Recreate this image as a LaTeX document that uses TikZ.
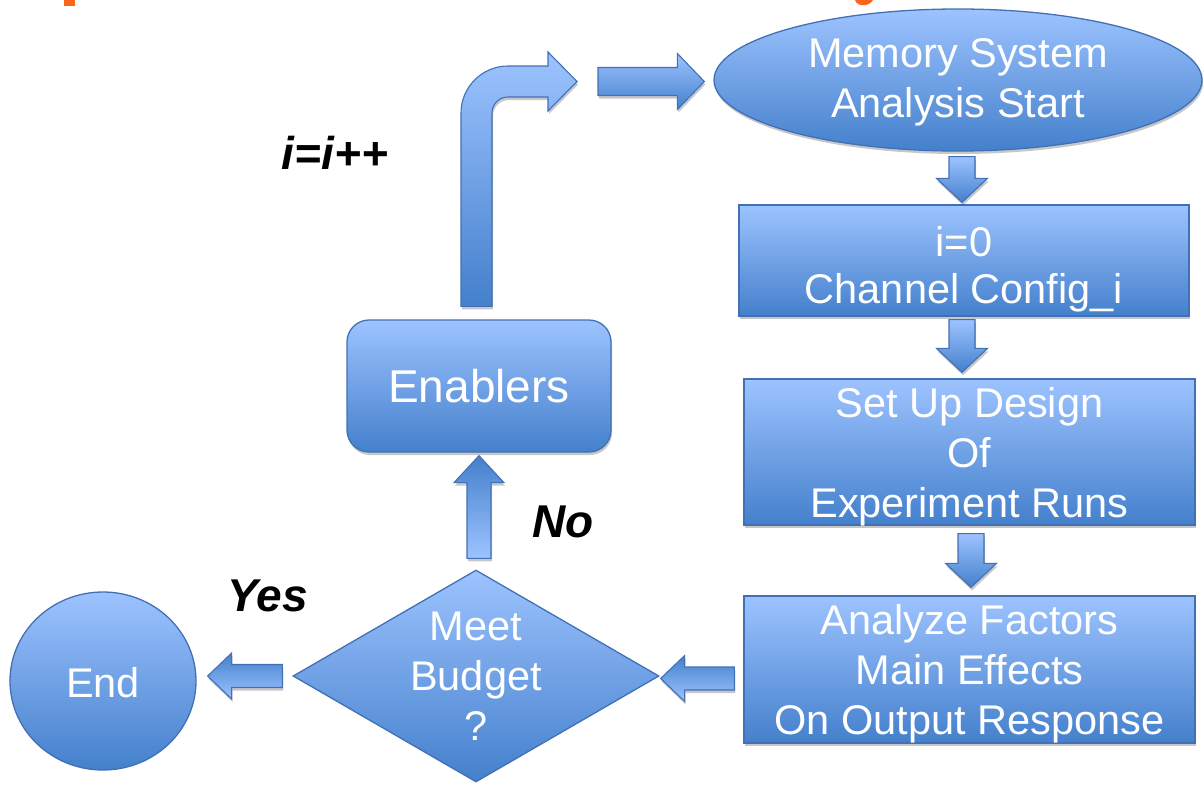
\documentclass[tikz,border=0pt]{standalone}
\usepackage{fontspec}
\setmainfont{Liberation Sans}
\usetikzlibrary{shapes.geometric,shadows,calc}
\definecolor{lt}{RGB}{157,195,255}
\definecolor{dk}{RGB}{68,128,204}
\definecolor{bord}{RGB}{65,113,180}
\definecolor{ttl}{RGB}{250,100,30}
\tikzset{
  shp/.style={draw=bord, line width=1.3pt, top color=lt, bottom color=dk, text=white,
    align=center, inner sep=0pt, font=\fontsize{41.5}{50}\selectfont},
  shd/.style={drop shadow={shadow xshift=1pt, shadow yshift=-3pt, opacity=0.22, fill=black}},
  boxn/.style={shp, shd, rectangle, text depth=0pt},
  lbl/.style={font=\fontsize{46}{55}\selectfont\bfseries\itshape, text=black, inner sep=0pt},
  arr/.style={draw=bord, line width=1.1pt, shd},
  dnarr/.style={arr, top color=lt, bottom color=dk,
    to path={let \p1=(\tikztostart), \p2=(\tikztotarget) in
      (\x1-13pt,\y1) -- (\x1+13pt,\y1) -- (\x1+13pt,\y2+24pt) -- (\x1+25.5pt,\y2+24pt)
      -- (\x1,\y2) -- (\x1-25.5pt,\y2+24pt) -- (\x1-13pt,\y2+24pt) -- cycle}},
  uparr/.style={arr, top color=dk, bottom color=lt,
    to path={let \p1=(\tikztostart), \p2=(\tikztotarget) in
      (\x2-12pt,\y1) -- (\x2+12pt,\y1) -- (\x2+12pt,\y2-27pt) -- (\x2+25pt,\y2-27pt)
      -- (\x2,\y2) -- (\x2-25pt,\y2-27pt) -- (\x2-12pt,\y2-27pt) -- cycle}},
  lfarr/.style={arr, top color=dk, bottom color=lt,
    to path={let \p1=(\tikztostart), \p2=(\tikztotarget) in
      (\x1,\y1+11.5pt) -- (\x2+24pt,\y1+11.5pt) -- (\x2+24pt,\y1+23pt) -- (\x2,\y1)
      -- (\x2+24pt,\y1-23pt) -- (\x2+24pt,\y1-11.5pt) -- (\x1,\y1-11.5pt) -- cycle}},
  rtarr/.style={arr, top color=lt, bottom color=dk,
    to path={let \p1=(\tikztostart), \p2=(\tikztotarget) in
      (\x1,\y1+14pt) -- (\x2-27pt,\y1+14pt) -- (\x2-27pt,\y1+28pt) -- (\x2,\y1)
      -- (\x2-27pt,\y1-28pt) -- (\x2-27pt,\y1-14pt) -- (\x1,\y1-14pt) -- cycle}},
  bentarr/.style={arr, top color=lt, bottom color=dk,
    to path={let \p1=(\tikztostart), \p2=(\tikztotarget) in
      (\x1-15.5pt,\y1) -- (\x1-15.5pt,\y2-31.5pt) arc(180:90:47pt)
      -- (\x2-29pt,\y2+15.5pt) -- (\x2-29pt,\y2+29.5pt) -- (\x2,\y2)
      -- (\x2-29pt,\y2-29.5pt) -- (\x2-29pt,\y2-15.5pt) -- (\x1+31.5pt,\y2-15.5pt)
      arc(90:180:16pt) -- (\x1+15.5pt,\y1) -- cycle}},
}
\begin{document}
\begin{tikzpicture}[x=1pt,y=-1pt]
\useasboundingbox (0,0) rectangle (1204,785);
\clip (0,0) rectangle (1204,785);
% cropped title fragments
\fill[ttl] (64,0) rectangle (75,6);
\fill[ttl] (855,0) .. controls (857,7) and (869,7) .. (873,0) -- cycle;
% nodes
\node[shp, shd, ellipse, minimum width=488pt, minimum height=142pt, text depth=3.5pt] (start) at (958,80) {Memory System\\Analysis Start};
\node[boxn, minimum width=450pt, minimum height=111pt, text height=85pt,
      font=\fontsize{41.5}{47}\selectfont] (cfg) at (964,260.5) {i=0\\Channel Config\_i};
\node[boxn, minimum width=451pt, minimum height=146pt] (doe) at (969.5,452) {Set Up Design\\Of\\Experiment Runs};
\node[boxn, minimum width=451pt, minimum height=147pt] (ana) at (969.5,669.5) {Analyze Factors\\Main Effects\\On Output Response};
\node[shp, shd, rectangle, rounded corners=22pt, minimum width=264pt, minimum height=132pt,
      font=\fontsize{46}{55}\selectfont] (enab) at (479,386) {Enablers};
\node[shp, diamond, aspect=1.72, minimum width=366pt, minimum height=212pt] (dec) at (476,676) {Meet\\Budget\\?};
\node[shp, ellipse, minimum width=186pt, minimum height=178pt, text height=34pt] (endn) at (103,681) {End};
\coordinate (bt) at (577,81.5);
% connectors
\draw[dnarr] ([xshift=4pt,yshift=-5pt]start.south) to ([yshift=2pt]cfg.north);
\draw[dnarr] ([xshift=-2pt,yshift=-3pt]cfg.south) to ([yshift=6pt]doe.north);
\draw[dnarr] ([xshift=1.5pt,yshift=-8pt]doe.south) to ([yshift=8pt]ana.north);
\draw[lfarr] ([xshift=-9pt,yshift=-9pt]ana.west) to ([xshift=1pt]dec.east);
\draw[lfarr] ([xshift=-10pt]dec.west) to ([xshift=11pt]endn.east);
\draw[uparr] ([yshift=11pt]dec.north) to ([yshift=-3pt]enab.south);
\draw[bentarr] ([xshift=-2.5pt,yshift=13pt]enab.north) to (bt);
\draw[rtarr] ([xshift=21pt]bt) to ([xshift=-9pt]start.west);
% labels
\node[lbl] (lbi) at (335,153) {i=i++};
\node[lbl] (lno) at (563,522) {No};
\node[lbl] (lyes) at (268,596) {Yes};
\end{tikzpicture}
\end{document}
